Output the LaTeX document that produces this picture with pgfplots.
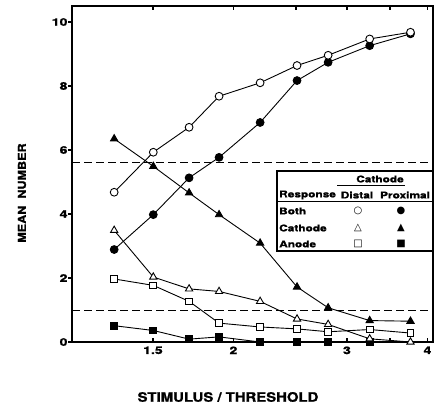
\documentclass[border=0pt]{standalone}
\usepackage{pgfplots}
\pgfplotsset{compat=1.18}
\usepackage{fontspec}
\setmainfont{TeX Gyre Heros}
\newfontfamily\extfont[FakeStretch=1.35,FakeBold=1.2]{TeX Gyre Heros}
\newfontfamily\legfont[FakeStretch=1.28,FakeBold=1.2]{TeX Gyre Heros}
\newfontfamily\labfont[FakeStretch=1.15,FakeBold=1.2]{TeX Gyre Heros}
\newfontfamily\sym{DejaVu Sans}
\begin{document}
\begin{tikzpicture}[x=1bp,y=1bp]
\useasboundingbox (0,0) rectangle (435,409);
\begin{axis}[
  at={(72bp,67bp)}, anchor=south west,
  scale only axis, width=361bp, height=336bp,
  xmode=log,
  xmin=1.1234, xmax=4.08, ymin=0, ymax=10.5,
  xtick={1.5,2,2.5,3,3.5,4}, xticklabels={1.5,2,,3,,4},
  minor xtick={},
  ytick={0,2,4,6,8,10},
  ytick pos=left, xtick pos=both,
  tick align=inside, major tick length=4bp,
  ytick style={xshift=-4bp},
  axis line style={line width=1.6bp},
  tick style={line width=1.2bp, black},
  tick label style={font=\extfont\bfseries\fontsize{10.5}{12}\selectfont},
  xticklabel style={yshift=-1bp},
  yticklabel style={xshift=-1bp},
  /pgf/number format/assume math mode=true,
  clip=false,
  every axis plot/.append style={line width=0.9bp, black},
]
\addplot[dashed, dash pattern=on 8bp off 4bp, line width=1bp] coordinates {(1.1234,5.6) (4.08,5.6)};
\addplot[dashed, dash pattern=on 8bp off 4bp, line width=1bp] coordinates {(1.1234,1.0) (4.08,1.0)};
% Anode proximal (filled squares)
\addplot[mark=square*, mark size=3.4bp, mark options={fill=black}] coordinates {
(1.306,0.51) (1.502,0.36) (1.707,0.09) (1.90,0.16) (2.20,0.0) (2.51,0.0) (2.805,0.0) (3.254,0.0)};
% Cathode proximal (filled triangles)
\addplot[mark=triangle*, mark size=4.2bp, mark options={fill=black}] coordinates {
(1.306,6.35) (1.502,5.49) (1.707,4.66) (1.90,3.98) (2.20,3.09) (2.51,1.72) (2.805,1.07) (3.254,0.67) (3.765,0.65)};
% Both proximal (filled circles)
\addplot[mark=*, mark size=3.9bp, mark options={fill=black}] coordinates {
(1.306,2.89) (1.502,3.98) (1.707,5.13) (1.90,5.77) (2.20,6.86) (2.51,8.17) (2.805,8.74) (3.254,9.26) (3.765,9.63)};
% Anode distal (open squares)
\addplot[mark=square*, mark size=3.4bp, mark options={fill=white, line width=0.9bp}] coordinates {
(1.306,1.97) (1.502,1.77) (1.707,1.27) (1.90,0.59) (2.20,0.47) (2.51,0.41) (2.805,0.32) (3.254,0.39) (3.765,0.28)};
% Cathode distal (open triangles)
\addplot[mark=triangle*, mark size=4.2bp, mark options={fill=white, line width=0.9bp}] coordinates {
(1.306,3.49) (1.502,2.03) (1.707,1.66) (1.90,1.58) (2.20,1.27) (2.51,0.72) (2.805,0.55) (3.254,0.10) (3.765,0.0)};
% Both distal (open circles)
\addplot[mark=*, mark size=3.9bp, mark options={fill=white, line width=0.9bp}] coordinates {
(1.306,4.68) (1.502,5.93) (1.707,6.71) (1.90,7.68) (2.20,8.10) (2.51,8.64) (2.805,8.96) (3.254,9.47) (3.765,9.68)};
\end{axis}
% axis labels
\node[font=\labfont\bfseries\fontsize{13}{15}\selectfont] at (228,12) {STIMULUS / THRESHOLD};
\node[rotate=90, font=\labfont\bfseries\fontsize{11}{13}\selectfont] at (22,216) {MEAN\ \ NUMBER};
% legend table
\fill[white] (277,158) rectangle (433,238);
\draw[line width=1.1bp] (277,158) rectangle (433,238);
\draw[line width=1bp] (337,224) -- (405,224);
\draw[line width=1bp] (277,208) -- (433,208);
\begin{scope}[every node/.style={font=\legfont\bfseries\fontsize{9.3}{11}\selectfont, inner sep=0pt}]
\node at (380,230) {Cathode};
\node[anchor=west] at (279,214) {Response};
\node at (357,214) {Distal};
\node at (405,214) {Proximal};
\node[anchor=west] at (279,198) {Both};
\node[anchor=west] at (279,181) {Cathode};
\node[anchor=west] at (279,165) {Anode};
\end{scope}
\begin{scope}[every node/.style={font=\sym\fontsize{10}{12}\selectfont, inner sep=0pt}]
\node at (358,198) {○};
\node at (401,198) {●};
\node at (358,181) {△};
\node at (401,181) {▲};
\node at (358,165) {□};
\node at (401,165) {■};
\end{scope}
\end{tikzpicture}
\end{document}
